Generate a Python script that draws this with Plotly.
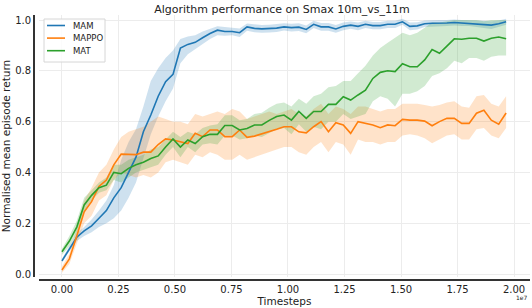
import numpy as np
import plotly.graph_objects as go

# ---------------- data ----------------
timesteps = np.linspace(0, 1.965e7, 61)

series_names = ["MAM", "MAPPO", "MAT"]
series_colors = ["#1f77b4", "#ff7f0e", "#2ca02c"]
band_colors = ["rgba(31,119,180,0.22)", "rgba(255,127,14,0.22)", "rgba(44,160,44,0.22)"]

mam_mean = [0.052, 0.10, 0.145, 0.17, 0.19, 0.22, 0.25, 0.30, 0.34, 0.40,
            0.46, 0.56, 0.626, 0.70, 0.757, 0.786, 0.89, 0.904, 0.912, 0.93,
            0.947, 0.96, 0.955, 0.955, 0.95, 0.973, 0.967, 0.965, 0.966, 0.968,
            0.973, 0.97, 0.972, 0.963, 0.983, 0.973, 0.973, 0.965, 0.975, 0.98,
            0.975, 0.983, 0.978, 0.978, 0.983, 0.983, 0.993, 0.975, 0.977, 0.985,
            0.987, 0.987, 0.988, 0.99, 0.988, 0.988, 0.985, 0.983, 0.98, 0.985,
            0.993]
mam_upper = [0.06, 0.11, 0.16, 0.185, 0.215, 0.25, 0.29, 0.35, 0.45, 0.52,
             0.57, 0.66, 0.76, 0.81, 0.85, 0.88, 0.925, 0.935, 0.94, 0.955,
             0.965, 0.975, 0.972, 0.970, 0.967, 0.986, 0.982, 0.980, 0.981, 0.983,
             0.987, 0.985, 0.987, 0.978, 0.997, 0.988, 0.988, 0.980, 0.990, 0.994,
             0.990, 0.997, 0.992, 0.992, 0.997, 0.997, 1.005, 0.990, 0.991, 0.998,
             1.0, 1.0, 1.0, 1.002, 1.0, 1.0, 0.998, 0.997, 0.995, 0.998,
             1.005]
mam_lower = [0.045, 0.09, 0.13, 0.15, 0.165, 0.185, 0.20, 0.22, 0.25, 0.30,
             0.36, 0.45, 0.55, 0.62, 0.68, 0.73, 0.83, 0.865, 0.885, 0.905,
             0.925, 0.94, 0.938, 0.940, 0.933, 0.958, 0.952, 0.950, 0.951, 0.953,
             0.959, 0.955, 0.957, 0.948, 0.969, 0.958, 0.958, 0.950, 0.960, 0.966,
             0.960, 0.969, 0.964, 0.964, 0.969, 0.969, 0.981, 0.960, 0.963, 0.972,
             0.974, 0.974, 0.976, 0.978, 0.976, 0.976, 0.972, 0.969, 0.965, 0.972,
             0.981]

mappo_mean = [0.016, 0.06, 0.15, 0.245, 0.285, 0.345, 0.37, 0.43, 0.472, 0.47,
              0.47, 0.48, 0.48, 0.51, 0.532, 0.528, 0.52, 0.514, 0.554, 0.541,
              0.567, 0.567, 0.541, 0.541, 0.567, 0.538, 0.543, 0.551, 0.56, 0.57,
              0.58, 0.58, 0.56, 0.556, 0.58, 0.60, 0.56, 0.596, 0.587, 0.554,
              0.60, 0.593, 0.587, 0.576, 0.587, 0.584, 0.609, 0.606, 0.606, 0.602,
              0.584, 0.60, 0.613, 0.613, 0.593, 0.593, 0.633, 0.645, 0.606, 0.59,
              0.634]
mappo_upper = [0.03, 0.08, 0.18, 0.29, 0.34, 0.40, 0.43, 0.49, 0.54, 0.56,
               0.57, 0.58, 0.60, 0.62, 0.61, 0.60, 0.60, 0.59, 0.63, 0.62,
               0.63, 0.64, 0.63, 0.65, 0.64, 0.61, 0.62, 0.63, 0.64, 0.63,
               0.64, 0.65, 0.63, 0.62, 0.65, 0.67, 0.63, 0.66, 0.65, 0.63,
               0.66, 0.66, 0.65, 0.64, 0.65, 0.65, 0.67, 0.67, 0.67, 0.665,
               0.66, 0.665, 0.675, 0.68, 0.66, 0.655, 0.70, 0.705, 0.67, 0.66,
               0.70]
mappo_lower = [0.005, 0.04, 0.12, 0.20, 0.23, 0.29, 0.31, 0.37, 0.40, 0.39,
               0.38, 0.39, 0.38, 0.40, 0.44, 0.45, 0.44, 0.43, 0.47, 0.46,
               0.48, 0.47, 0.45, 0.45, 0.47, 0.45, 0.46, 0.47, 0.48, 0.49,
               0.50, 0.50, 0.48, 0.47, 0.50, 0.52, 0.48, 0.52, 0.51, 0.47,
               0.53, 0.52, 0.52, 0.51, 0.52, 0.52, 0.545, 0.55, 0.545, 0.535,
               0.515, 0.53, 0.545, 0.55, 0.53, 0.53, 0.57, 0.575, 0.545, 0.535,
               0.575]

mat_mean = [0.088, 0.13, 0.185, 0.272, 0.31, 0.34, 0.35, 0.40, 0.395, 0.416,
            0.43, 0.44, 0.455, 0.465, 0.50, 0.532, 0.50, 0.528, 0.514, 0.541,
            0.55, 0.55, 0.585, 0.585, 0.567, 0.573, 0.587, 0.587, 0.605, 0.62,
            0.626, 0.606, 0.64, 0.613, 0.64, 0.64, 0.668, 0.668, 0.698, 0.685,
            0.705, 0.724, 0.77, 0.794, 0.80, 0.797, 0.828, 0.816, 0.816, 0.843,
            0.884, 0.869, 0.897, 0.926, 0.924, 0.928, 0.928, 0.917, 0.928, 0.933,
            0.926]
mat_upper = [0.10, 0.15, 0.21, 0.30, 0.33, 0.36, 0.38, 0.43, 0.43, 0.45,
             0.46, 0.47, 0.49, 0.50, 0.53, 0.56, 0.54, 0.56, 0.55, 0.575,
             0.585, 0.59, 0.625, 0.625, 0.605, 0.61, 0.63, 0.635, 0.655, 0.67,
             0.675, 0.66, 0.69, 0.67, 0.70, 0.71, 0.735, 0.74, 0.76, 0.76,
             0.79, 0.82, 0.86, 0.89, 0.91, 0.93, 0.95, 0.94, 0.95, 0.97,
             0.99, 0.99, 0.995, 1.0, 1.0, 1.0, 1.0, 0.995, 1.0, 1.0,
             1.0]
mat_lower = [0.075, 0.11, 0.16, 0.24, 0.29, 0.32, 0.33, 0.37, 0.36, 0.38,
             0.40, 0.41, 0.42, 0.43, 0.47, 0.50, 0.46, 0.50, 0.48, 0.51,
             0.515, 0.51, 0.545, 0.545, 0.53, 0.535, 0.545, 0.54, 0.555, 0.57,
             0.575, 0.55, 0.59, 0.56, 0.58, 0.57, 0.60, 0.60, 0.63, 0.61,
             0.62, 0.63, 0.68, 0.70, 0.69, 0.66, 0.71, 0.71, 0.72, 0.74,
             0.78, 0.79, 0.81, 0.84, 0.83, 0.85, 0.85, 0.84, 0.855, 0.86,
             0.86]

x_tick_values = [0, 0.25e7, 0.5e7, 0.75e7, 1.0e7, 1.25e7, 1.5e7, 1.75e7, 2.0e7]
x_tick_labels = ["0.00", "0.25", "0.50", "0.75", "1.00", "1.25", "1.50", "1.75", "2.00"]
y_tick_values = [0.0, 0.2, 0.4, 0.6, 0.8, 1.0]
y_tick_labels = ["0.0", "0.2", "0.4", "0.6", "0.8", "1.0"]

means = [mam_mean, mappo_mean, mat_mean]
uppers = [mam_upper, mappo_upper, mat_upper]
lowers = [mam_lower, mappo_lower, mat_lower]
for arr in means + uppers + lowers:
    assert len(arr) == len(timesteps)

# ---------------- figure ----------------
FONT = "DejaVu Sans"
TXT = "#222"
fig = go.Figure()
xs = list(timesteps)
for name, up, lo, bc in zip(series_names, uppers, lowers, band_colors):
    fig.add_trace(go.Scatter(
        x=xs + xs[::-1], y=list(up) + list(lo)[::-1],
        fill="toself", fillcolor=bc, line=dict(width=0),
        hoverinfo="skip", showlegend=False, mode="lines"))
for name, m, c in zip(series_names, means, series_colors):
    fig.add_trace(go.Scatter(x=xs, y=m, mode="lines", name=name,
                             line=dict(color=c, width=1.6), showlegend=False))

W, H = 532, 308
ML, MR, MT, MB = 34, 2, 15, 28
PW, PH = W - ML - MR, H - MT - MB


def px_to_paper_x(px):
    return (px - ML) / PW


def px_to_paper_y(py):
    return (H - MB - py) / PH


fig.update_layout(
    width=W, height=H,
    margin=dict(l=ML, r=MR, t=MT, b=MB),
    paper_bgcolor="white", plot_bgcolor="white",
    font=dict(family=FONT, color=TXT, size=10),
    title=dict(text="Algorithm performance on Smax 10m_vs_11m",
               x=0.5, xref="paper", xanchor="center",
               y=1 - 9 / H, yref="container", yanchor="middle",
               font=dict(size=11, family=FONT, color=TXT)),
    showlegend=False,
)
fig.update_xaxes(
    range=[-0.1018e7, 2.0707e7], domain=[0.01, 1], anchor="free", position=0,
    showline=True, linecolor="#333", linewidth=1.8,
    tickvals=x_tick_values, ticktext=x_tick_labels, ticks="",
    tickfont=dict(size=10), showgrid=True, gridcolor="#ececec", gridwidth=1,
    zeroline=False,
    title=dict(text="Timesteps", font=dict(size=10.5), standoff=1),
)
fig.update_yaxes(
    range=[-0.0118, 1.0197], domain=[0.011, 1], anchor="free", position=0,
    showline=True, linecolor="#333", linewidth=1.8,
    tickvals=y_tick_values, ticktext=y_tick_labels, ticks="",
    tickfont=dict(size=10), showgrid=True, gridcolor="#ececec", gridwidth=1,
    zeroline=False,
    title=dict(text="Normalised mean episode return", font=dict(size=10.5), standoff=4),
)
fig.add_annotation(text="1e7", x=1, xref="paper", xanchor="right",
                   y=px_to_paper_y(297), yref="paper", yanchor="middle",
                   showarrow=False, font=dict(size=6, family=FONT, color=TXT))

# legend box (drawn like matplotlib's legend)
fig.add_shape(type="rect", xref="paper", yref="paper",
              x0=px_to_paper_x(44), x1=px_to_paper_x(105),
              y0=px_to_paper_y(62), y1=px_to_paper_y(19),
              line=dict(color="#d6d6d6", width=1), fillcolor="rgba(255,255,255,0.85)",
              layer="above")
for k, (name, c) in enumerate(zip(series_names, series_colors)):
    yy = 25.5 + k * 12.6
    fig.add_shape(type="line", xref="paper", yref="paper",
                  x0=px_to_paper_x(47), x1=px_to_paper_x(65),
                  y0=px_to_paper_y(yy), y1=px_to_paper_y(yy),
                  line=dict(color=c, width=1.6), layer="above")
    fig.add_annotation(text=name, x=px_to_paper_x(71), xref="paper", xanchor="left",
                       y=px_to_paper_y(yy), yref="paper", yanchor="middle",
                       showarrow=False, font=dict(size=8.5, family=FONT, color=TXT))

fig.write_html("out.html", config={"displayModeBar": False},
               post_script="document.body.style.margin='0';document.body.style.overflow='hidden';")
